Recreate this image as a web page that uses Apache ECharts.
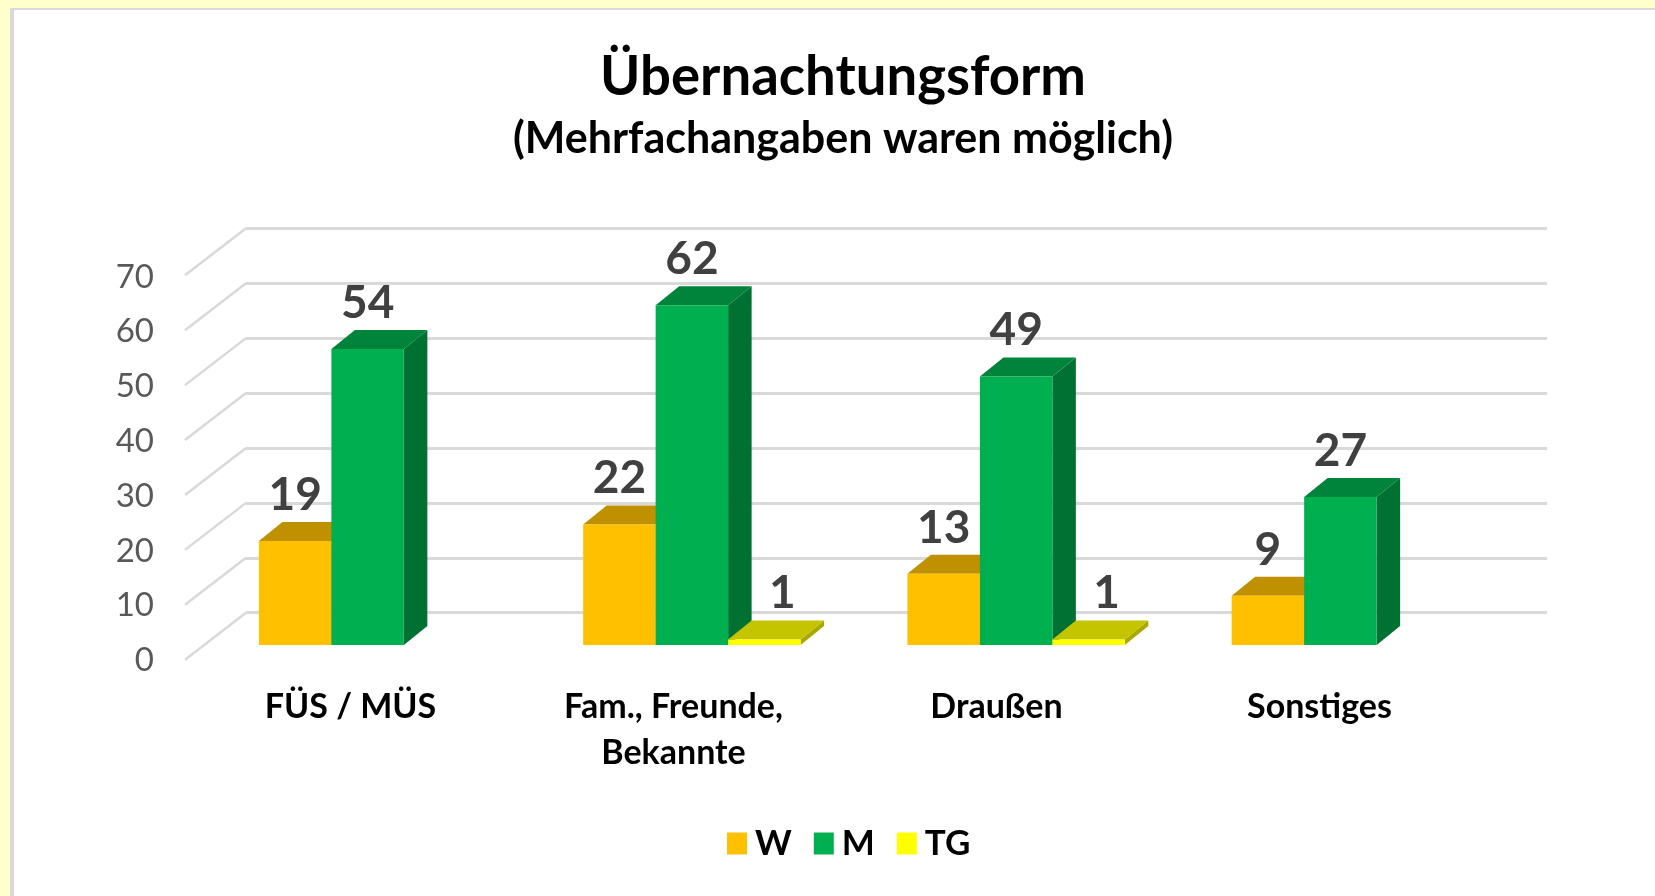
<!DOCTYPE html>
<html>
<head>
<meta charset="utf-8">
<title>Übernachtungsform</title>
<script src="https://cdn.jsdelivr.net/npm/echarts@6/dist/echarts.min.js"></script>
<style>
    html, body { margin: 0; padding: 0; background: #ffffcc; overflow: hidden; }
    #frame { position: absolute; left: 10px; top: 8px; right: 0; bottom: 0; background: #fff;
             border-left: 4px solid #d9d9d9; border-top: 2px solid #d9d9d9; }
    #chart { position: absolute; left: 0; top: 0; width: 1655px; height: 896px; }
</style>
</head>
<body>
<div id="frame"></div>
<div id="chart"></div>
<script>
var categories = ['FÜS / MÜS', 'Fam., Freunde,\nBekannte', 'Draußen', 'Sonstiges'];
var valuesW = [19, 22, 13, 9];
var valuesM = [54, 62, 49, 27];
var valuesTG = [null, 1, 1, null];
var yTicks = [0, 10, 20, 30, 40, 50, 60, 70];

var fontName = 'Lato';
var myChart = echarts.init(document.getElementById('chart'));

// seitliche und obere Flaechen der Saeulen
function barRenderer(seriesPos, top, side, labelDx) {
    return function (params, api) {
        var value = api.value(1);
        var band = api.size([1, 0])[0];
        var w = band * 0.2235;
        var dx = 23.5, dy = 19;
        var center = api.coord([api.value(0), 0]);
        var head = api.coord([api.value(0), value]);
        var x0 = center[0] + (seriesPos - 1.5) * w;
        var x1 = x0 + w;
        var y0 = center[1];
        var y1 = head[1];
        return {
            type: 'group',
            children: [
                {
                    type: 'polygon',
                    shape: {points: [[x1, y1], [x1 + dx, y1 - dy], [x1 + dx, y0 - dy], [x1, y0]]},
                    style: {fill: side}
                },
                {
                    type: 'polygon',
                    shape: {points: [[x0, y1], [x0 + dx, y1 - dy], [x1 + dx, y1 - dy], [x1, y1]]},
                    style: {fill: top}
                },
                {
                    type: 'rect',
                    shape: {x: x0, y: y1, width: w, height: y0 - y1},
                    style: {fill: api.visual('color')}
                },
                {
                    type: 'text',
                    style: {
                        text: String(value),
                        x: (x0 + x1) / 2 + labelDx,
                        y: y1 - 46,
                        align: 'center',
                        verticalAlign: 'middle',
                        fill: '#404040',
                        font: 'bold 46px ' + fontName
                    }
                }
            ]
        };
    };
}

function barSeries(name, values, seriesPos, color, top, side, labelDx) {
    var data = [];
    values.forEach(function (v, i) {
        if (v !== null) data.push([i, v]);
    });
    return {
        name: name,
        type: 'custom',
        xAxisIndex: 2,
        yAxisIndex: 2,
        clip: false,
        itemStyle: {color: color},
        encode: {x: 0, y: 1},
        renderItem: barRenderer(seriesPos, top, side, labelDx),
        data: data
    };
}

var option = {
    animation: false,
    textStyle: {fontFamily: fontName},
    title: {
        text: 'Übernachtungsform',
        subtext: '(Mehrfachangaben waren möglich)',
        left: 838,
        top: 45,
        textAlign: 'center',
        itemGap: 13,
        textStyle: {color: '#000', fontSize: 54.5, fontWeight: 'bold', fontFamily: fontName},
        subtextStyle: {color: '#000', fontSize: 43, fontWeight: 'bold', fontFamily: fontName}
    },
    legend: {
        left: 727,
        top: 826,
        padding: 0,
        itemWidth: 20,
        itemHeight: 22,
        itemGap: 22,
        icon: 'rect',
        data: ['W', 'M', 'TG'],
        textStyle: {color: '#000', fontSize: 35, fontWeight: 'bold', fontFamily: fontName, padding: [0, 0, 0, 3]}
    },
    grid: [
        // Rueckwand
        {left: 246, top: 228.3, width: 1301, height: 384.4},
        // Vorderkante mit den Achsenbeschriftungen
        {left: 189, top: 277, width: 1292, height: 383.6},
        // Saeulen
        {left: 205.5, top: 261.4, width: 1297, height: 383.6}
    ],
    xAxis: [
        {gridIndex: 0, type: 'value', min: 0, max: 1, show: false},
        {
            gridIndex: 1,
            type: 'category',
            data: categories,
            axisLine: {show: false},
            axisTick: {show: false},
            axisLabel: {
                interval: 0,
                margin: 23,
                color: '#000',
                fontSize: 34,
                fontWeight: 'bold',
                lineHeight: 46,
                fontFamily: fontName
            }
        },
        {gridIndex: 2, type: 'category', data: categories, show: false}
    ],
    yAxis: [
        {
            gridIndex: 0,
            type: 'value',
            min: 0,
            max: 70,
            interval: 10,
            axisLine: {show: false},
            axisTick: {show: false},
            axisLabel: {show: false},
            splitLine: {lineStyle: {color: '#d9d9d9', width: 3}}
        },
        {
            gridIndex: 1,
            type: 'value',
            min: 0,
            max: 70,
            interval: 10,
            axisLine: {show: false},
            axisTick: {show: false},
            splitLine: {show: false},
            axisLabel: {margin: 35, color: '#595959', fontSize: 33, fontFamily: fontName}
        },
        {gridIndex: 2, type: 'value', min: 0, max: 70, show: false}
    ],
    series: [
        {
            // schraege Linien der Seitenwand
            type: 'custom',
            xAxisIndex: 0,
            yAxisIndex: 0,
            clip: false,
            silent: true,
            encode: {y: 0},
            renderItem: function (params, api) {
                var p = api.coord([0, api.value(0)]);
                return {
                    type: 'line',
                    shape: {x1: p[0], y1: p[1], x2: p[0] - 61, y2: p[1] + 47},
                    style: {stroke: '#d9d9d9', lineWidth: 2.5}
                };
            },
            data: yTicks
        },
        barSeries('W', valuesW, 0, '#ffc000', '#bf9000', '#bf9000', 0),
        barSeries('M', valuesM, 1, '#00b050', '#00843c', '#007033', 0),
        barSeries('TG', valuesTG, 2, '#ffff00', '#c4c400', '#a8a800', 18)
    ]
};

myChart.setOption(option);
</script>
</body>
</html>
